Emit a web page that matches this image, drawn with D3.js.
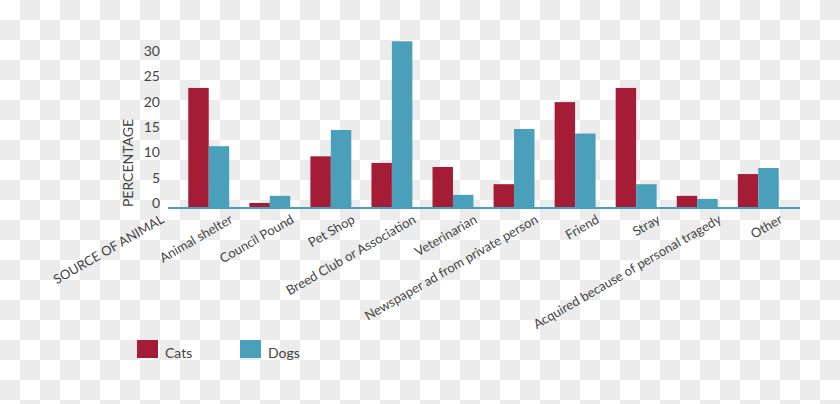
<!DOCTYPE html>
<html><head><meta charset="utf-8">
<script src="https://cdn.jsdelivr.net/npm/d3@7"></script>
<style>
html,body{margin:0;padding:0;}
body{width:840px;height:404px;background-color:#fff;
background-image:linear-gradient(45deg,#ececec 25%,transparent 25%,transparent 75%,#ececec 75%),linear-gradient(45deg,#ececec 25%,transparent 25%,transparent 75%,#ececec 75%);
background-size:40px 40px;background-position:0 0,20px 20px;}
text{font-family:Lato,"Open Sans",sans-serif;fill:#444;}
</style></head><body>
<svg id="c" width="840" height="404"></svg>
<script>
const categories=["Animal shelter","Council Pound","Pet Shop","Breed Club or Association","Veterinarian","Newspaper ad from private person","Friend","Stray","Acquired because of personal tragedy","Other"];
const cats=[23.5,0.8,10,8.7,7.9,4.5,20.7,23.5,2.2,6.5];
const dogs=[12,2.2,15.2,32.7,2.4,15.4,14.5,4.5,1.6,7.7];
const seriesNames=["Cats","Dogs"];
const colors=["#a51c36","#4a9fba"];
const yTicks=[0,5,10,15,20,25,30];

const svg=d3.select("#c");
const y=d3.scaleLinear().domain([0,30]).range([207,55]);
const x=d3.scaleBand().domain(categories).range([178.5,788.5]).paddingInner(0.33).paddingOuter(0.16);
const xs=d3.scaleBand().domain(seriesNames).range([0,x.bandwidth()]);

const g=svg.append("g");
categories.forEach((c,i)=>{
  [cats[i],dogs[i]].forEach((v,j)=>{
    g.append("rect").attr("x",x(c)+xs(seriesNames[j])).attr("width",xs.bandwidth())
      .attr("y",y(v)).attr("height",y(0)-y(v)).attr("fill",colors[j]);
  });
});
svg.append("line").attr("x1",168).attr("x2",800).attr("y1",208).attr("y2",208).attr("stroke","#4a9fba").attr("stroke-width",2);

const ya=svg.append("g").attr("transform","translate(160,-4)").call(d3.axisLeft(y).tickValues(yTicks).tickSize(0).tickPadding(0));
ya.select(".domain").remove();
ya.selectAll("text").style("font-size","14px").style("fill","#444").style("font-family","Lato,sans-serif");

svg.append("text").attr("transform","translate(133,163) rotate(-90)").attr("text-anchor","middle").style("font-size","14px").text("PERCENTAGE");

const xa=svg.append("g");
categories.forEach(c=>{
  xa.append("text").attr("transform",`translate(${x(c)+x.bandwidth()/2+25},222) rotate(-30)`).attr("text-anchor","end").style("font-size","13px").text(c);
});
xa.append("text").attr("transform",`translate(165,222) rotate(-30)`).attr("text-anchor","end").style("font-size","13px").text("SOURCE OF ANIMAL");

seriesNames.forEach((s,i)=>{
  const lx=137+i*103;
  svg.append("rect").attr("x",lx).attr("y",340).attr("width",21).attr("height",18).attr("fill",colors[i]);
  svg.append("text").attr("x",lx+28).attr("y",358).style("font-size","14px").text(s);
});
</script></body></html>
